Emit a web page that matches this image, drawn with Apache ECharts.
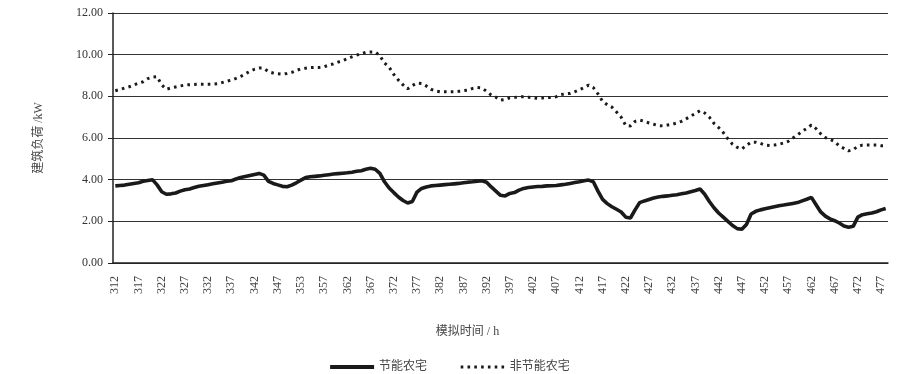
<!DOCTYPE html>
<html>
<head>
<meta charset="utf-8">
<script src="https://cdn.jsdelivr.net/npm/echarts@6/dist/echarts.min.js"></script>
<style>html,body{margin:0;padding:0;background:#fff;}#c{width:908px;height:374px;}</style>
</head>
<body>
<div id="c"></div>
<script>
// Hours 312..478 (the source labels the 41st hour "353")
const categories = [
  '312','313','314','315','316','317','318','319','320','321',
  '322','323','324','325','326','327','328','329','330','331',
  '332','333','334','335','336','337','338','339','340','341',
  '342','343','344','345','346','347','348','349','350','351',
  '353','353','354','355','356','357','358','359','360','361',
  '362','363','364','365','366','367','368','369','370','371',
  '372','373','374','375','376','377','378','379','380','381',
  '382','383','384','385','386','387','388','389','390','391',
  '392','393','394','395','396','397','398','399','400','401',
  '402','403','404','405','406','407','408','409','410','411',
  '412','413','414','415','416','417','418','419','420','421',
  '422','423','424','425','426','427','428','429','430','431',
  '432','433','434','435','436','437','438','439','440','441',
  '442','443','444','445','446','447','448','449','450','451',
  '452','453','454','455','456','457','458','459','460','461',
  '462','463','464','465','466','467','468','469','470','471',
  '472','473','474','475','476','477','478'
];
const energySaving = [
  3.70,3.72,3.74,3.78,3.82,3.85,3.92,3.96,4.00,3.75,
  3.42,3.30,3.32,3.36,3.45,3.52,3.55,3.62,3.68,3.72,
  3.76,3.80,3.84,3.88,3.92,3.95,4.03,4.10,4.15,4.20,
  4.25,4.30,4.22,3.92,3.82,3.75,3.68,3.66,3.74,3.85,
  3.98,4.10,4.14,4.16,4.18,4.21,4.24,4.27,4.29,4.31,
  4.33,4.36,4.40,4.43,4.50,4.55,4.50,4.30,3.90,3.60,
  3.38,3.17,3.00,2.88,2.95,3.40,3.58,3.65,3.70,3.72,
  3.74,3.76,3.78,3.80,3.82,3.85,3.88,3.90,3.93,3.95,
  3.88,3.65,3.45,3.25,3.22,3.34,3.38,3.50,3.58,3.62,
  3.65,3.67,3.68,3.70,3.71,3.72,3.75,3.78,3.82,3.86,
  3.90,3.95,3.98,3.90,3.45,3.05,2.85,2.70,2.58,2.45,
  2.20,2.16,2.55,2.90,2.98,3.05,3.12,3.17,3.20,3.22,
  3.25,3.28,3.32,3.36,3.42,3.48,3.55,3.30,2.95,2.65,
  2.40,2.20,2.00,1.80,1.65,1.62,1.85,2.35,2.48,2.55,
  2.60,2.65,2.70,2.75,2.78,2.82,2.86,2.90,2.98,3.06,
  3.15,2.80,2.45,2.25,2.12,2.03,1.92,1.78,1.72,1.76,
  2.20,2.32,2.36,2.40,2.46,2.55,2.62
];
const nonEnergySaving = [
  8.27,8.33,8.40,8.46,8.55,8.63,8.70,8.85,8.92,8.94,
  8.55,8.34,8.40,8.45,8.50,8.54,8.56,8.57,8.58,8.58,
  8.58,8.58,8.60,8.66,8.72,8.78,8.86,8.95,9.08,9.20,
  9.30,9.36,9.35,9.18,9.12,9.08,9.06,9.10,9.15,9.24,
  9.32,9.35,9.38,9.39,9.39,9.42,9.50,9.56,9.64,9.72,
  9.80,9.90,9.98,10.05,10.12,10.13,10.13,9.95,9.60,9.40,
  9.05,8.78,8.55,8.36,8.52,8.64,8.62,8.50,8.34,8.26,
  8.22,8.22,8.22,8.22,8.24,8.27,8.30,8.38,8.42,8.40,
  8.24,8.06,7.96,7.82,7.85,7.93,7.95,7.97,7.98,7.96,
  7.93,7.90,7.92,7.94,7.95,7.98,8.08,8.12,8.14,8.22,
  8.32,8.42,8.54,8.42,8.12,7.76,7.60,7.48,7.25,7.00,
  6.60,6.58,6.80,6.86,6.80,6.72,6.66,6.60,6.58,6.62,
  6.66,6.72,6.80,6.92,7.05,7.18,7.31,7.20,7.00,6.70,
  6.50,6.26,5.96,5.70,5.55,5.47,5.65,5.80,5.80,5.74,
  5.66,5.64,5.66,5.70,5.76,5.84,6.00,6.15,6.32,6.46,
  6.62,6.45,6.20,6.02,5.94,5.82,5.62,5.50,5.38,5.44,
  5.60,5.66,5.66,5.66,5.66,5.63,5.63
];
const seriesNames = ['节能农宅', '非节能农宅'];
const yTicks = { min: 0, max: 12, interval: 2 };

const serif = '"Liberation Serif","DejaVu Serif",serif';
const cjk = '"Liberation Serif","Noto Sans CJK SC",serif';
const chart = echarts.init(document.getElementById('c'), null, { renderer: 'canvas' });
chart.setOption({
  animation: false,
  backgroundColor: '#fff',
  grid: { left: 113, right: 20, top: 13, bottom: 111, containLabel: false },
  legend: {
    data: [
      { name: seriesNames[0], lineStyle: { width: 4.2, color: '#1a1a1a' } },
      { name: seriesNames[1], lineStyle: { width: 3.2, color: '#1a1a1a', type: [2.6, 4.2] } }
    ],
    bottom: -4,
    left: 323,
    itemWidth: 44,
    itemHeight: 10,
    itemGap: 32,
    itemStyle: { opacity: 0, color: 'transparent', borderWidth: 0 },
    textStyle: { fontFamily: cjk, fontSize: 12, color: '#444' }
  },
  xAxis: {
    type: 'category',
    data: categories,
    boundaryGap: true,
    name: '模拟时间 / h',
    nameLocation: 'middle',
    nameGap: 63,
    nameTextStyle: { fontFamily: cjk, fontSize: 12, color: '#444', padding: [0, 66, 0, 0] },
    axisLine: { lineStyle: { color: '#222', width: 1.5 } },
    axisTick: { interval: 0, length: 5, lineStyle: { color: '#222', width: 1 } },
    axisLabel: { interval: 4, rotate: 90, margin: 13, fontFamily: serif, fontSize: 12, color: '#444' },
    splitLine: { show: false }
  },
  yAxis: {
    type: 'value',
    min: yTicks.min,
    max: yTicks.max,
    interval: yTicks.interval,
    name: '建筑负荷 /kW',
    nameLocation: 'middle',
    nameGap: 68,
    nameRotate: 90,
    nameTextStyle: { fontFamily: cjk, fontSize: 12, color: '#444' },
    axisLine: { show: true, lineStyle: { color: '#222', width: 1.5 } },
    axisTick: { show: true, length: 5, lineStyle: { color: '#222' } },
    axisLabel: { margin: 10, fontFamily: serif, fontSize: 12, color: '#333',
      formatter: v => v.toFixed(2) },
    splitLine: { show: true, lineStyle: { color: '#333', width: 1.2 } }
  },
  series: [
    {
      name: seriesNames[0],
      type: 'line',
      data: energySaving,
      symbol: 'none',
      smooth: false,
      lineStyle: { color: '#1a1a1a', width: 3.6 },
      itemStyle: { color: '#1a1a1a' }
    },
    {
      name: seriesNames[1],
      type: 'line',
      data: nonEnergySaving,
      symbol: 'none',
      smooth: false,
      lineStyle: { color: '#1a1a1a', width: 3, type: [2.6, 4.2] },
      itemStyle: { color: '#1a1a1a' }
    }
  ]
});
</script>
</body>
</html>
